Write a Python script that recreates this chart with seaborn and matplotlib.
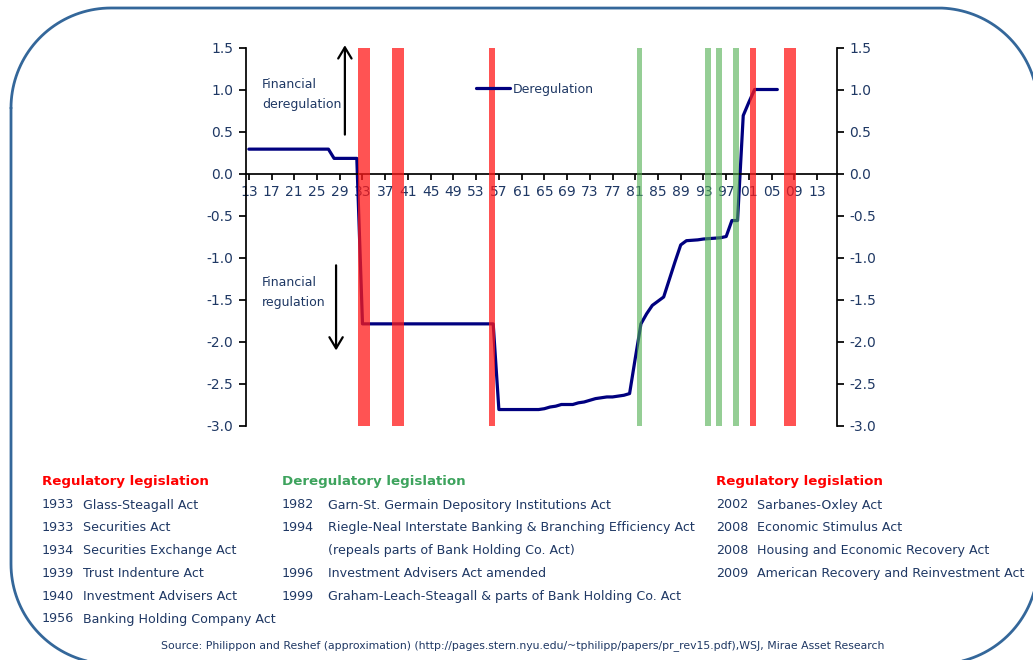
import matplotlib
matplotlib.use('Agg')
import matplotlib.pyplot as plt
import seaborn as sns
import pandas as pd
import numpy as np

# 데이터: 연도별 금융 규제완화 지수
years = list(range(1913, 2007))
dereg_index = ([0.29] * 15 + [0.18] * 5 + [-1.79] * 24 + [-2.81] * 8 +
               [-2.80, -2.78, -2.77, -2.75, -2.75, -2.75, -2.73, -2.72, -2.70, -2.68,
                -2.67, -2.66, -2.66, -2.65, -2.64, -2.62, -2.20, -1.79, -1.67, -1.57,
                -1.52, -1.47, -1.26, -1.05, -0.85, -0.80, -0.795, -0.79, -0.78, -0.775,
                -0.77, -0.765, -0.75, -0.56, -0.56, 0.69, 0.85, 1.00, 1.00, 1.00,
                1.00, 1.00])

# 규제 / 규제완화 입법 연도
reg_years = [1933, 1933, 1934, 1939, 1940, 1956, 2002, 2008, 2008, 2009]
dereg_years = [1982, 1994, 1996, 1999]

x_ticks = list(range(1913, 2014, 4))
x_labels = ['13', '17', '21', '25', '29', '33', '37', '41', '45', '49', '53', '57', '61',
            '65', '69', '73', '77', '81', '85', '89', '93', '97', '01', '05', '09', '13']
y_ticks = [1.5, 1.0, 0.5, 0.0, -0.5, -1.0, -1.5, -2.0, -2.5, -3.0]
y_labels = ['1.5', '1.0', '0.5', '0.0', '-0.5', '-1.0', '-1.5', '-2.0', '-2.5', '-3.0']

# 하단 입법 목록
reg_acts_early = [('1933', 'Glass-Steagall Act'), ('1933', 'Securities Act'),
                  ('1934', 'Securities Exchange Act'), ('1939', 'Trust Indenture Act'),
                  ('1940', 'Investment Advisers Act'), ('1956', 'Banking Holding Company Act')]
dereg_acts = [('1982', 'Garn-St. Germain Depository Institutions Act'),
              ('1994', 'Riegle-Neal Interstate Banking & Branching Efficiency Act'),
              ('', '(repeals parts of Bank Holding Co. Act)'),
              ('1996', 'Investment Advisers Act amended'),
              ('1999', 'Graham-Leach-Steagall & parts of Bank Holding Co. Act')]
reg_acts_late = [('2002', 'Sarbanes-Oxley Act'), ('2008', 'Economic Stimulus Act'),
                 ('2008', 'Housing and Economic Recovery Act'),
                 ('2009', 'American Recovery and Reinvestment Act')]

source = ('Source: Philippon and Reshef (approximation) '
          '(http://pages.stern.nyu.edu/~tphilipp/papers/pr_rev15.pdf),WSJ, Mirae Asset Research')

sns.set_theme(style='white')
plt.rcParams['font.family'] = ['DejaVu Sans']

navy = '#1F3864'
W, H = 1033, 660

def px(x, y):
    return x / W, 1 - y / H

fig = plt.figure(figsize=(W / 100, H / 100), dpi=100)

# 둥근 테두리 (픽셀 좌표 배경 축, y 아래 방향)
bg = fig.add_axes([0, 0, 1, 1], zorder=-1)
bg.set_xlim(0, W)
bg.set_ylim(H, 0)
bg.axis('off')

def rounded_rect(x0, y0, x1, y1, r):
    t = np.linspace(0, np.pi / 2, 40)
    centers = [(x0 + r, y0 + r), (x1 - r, y0 + r), (x1 - r, y1 - r), (x0 + r, y1 - r)]
    starts = [np.pi, 1.5 * np.pi, 0, 0.5 * np.pi]
    pts = [np.c_[cx + r * np.cos(a0 + t), cy + r * np.sin(a0 + t)]
           for (cx, cy), a0 in zip(centers, starts)]
    return np.vstack(pts + [pts[0][:1]])

frame = rounded_rect(11, 8, 1038, 664, 100)
bg.plot(frame[:, 0], frame[:, 1], color='#34679A', lw=2.0, clip_on=False)

ax = fig.add_axes([246 / W, 1 - 425.5 / H, (837 - 246) / W, 378 / H])
ax.patch.set_alpha(0)

df = pd.DataFrame({'year': years, 'Deregulation': dereg_index})
sns.lineplot(data=df, x='year', y='Deregulation', ax=ax, color='#00007F', lw=2.3,
             label='Deregulation', zorder=2)

# 입법 연도 띠 (반투명, 선 위에)
reg_band = sorted(set(reg_years))
dereg_band = sorted(set(dereg_years))
ax.bar([y - 0.25 for y in reg_band], 4.5, bottom=-3, width=1.0, color='#FF1A1A',
       alpha=0.75, lw=0, zorder=4)
ax.bar([y - 0.25 for y in dereg_band], 4.5, bottom=-3, width=1.0, color='#4FAE4F',
       alpha=0.6, lw=0, zorder=4)

ax.set_xlim(1912.5, 2016.5)
ax.set_ylim(-3, 1.5)
ax.set_xlabel('')
ax.set_ylabel('')
ax.set_xticks(x_ticks)
ax.set_xticklabels(x_labels)
ax.set_yticks(y_ticks)
ax.set_yticklabels(y_labels)
for s in ['top', 'right']:
    ax.spines[s].set_visible(False)
ax.spines['bottom'].set_position(('data', 0))
ax.spines['bottom'].set_color('black')
ax.spines['left'].set_color('black')
ax.tick_params(axis='x', bottom=True, direction='out', length=4, color='black',
               labelcolor=navy, labelsize=10, pad=4)
ax.tick_params(axis='y', left=True, direction='out', length=5, color='black',
               labelcolor=navy, labelsize=10, pad=4)

ax2 = ax.twinx()
ax2.set_ylim(-3, 1.5)
ax2.set_yticks(y_ticks)
ax2.set_yticklabels(y_labels)
for s in ['top', 'left', 'bottom']:
    ax2.spines[s].set_visible(False)
ax2.spines['right'].set_color('black')
ax2.tick_params(axis='y', right=True, direction='out', length=5, color='black',
                labelcolor=navy, labelsize=10, pad=4)
ax2.grid(False)

ax.legend(loc='center left', bbox_to_anchor=(0.389, 0.89), frameon=False, fontsize=9,
          handlelength=2.7, handletextpad=0.25, borderpad=0, borderaxespad=0,
          labelcolor=navy)

# 화살표와 설명
ax.text(1915.3, 1.14, 'Financial\nderegulation', va='top', ha='left', fontsize=9,
        color=navy, linespacing=1.75)
ax.annotate('', xy=(1929.9, 1.56), xytext=(1929.9, 0.43),
            arrowprops=dict(arrowstyle='->,head_length=0.5,head_width=0.3', color='black',
                            lw=1.6, mutation_scale=16), annotation_clip=False)
ax.text(1915.3, -1.22, 'Financial\nregulation', va='top', ha='left', fontsize=9,
        color=navy, linespacing=1.75)
ax.annotate('', xy=(1928.35, -2.14), xytext=(1928.35, -1.06),
            arrowprops=dict(arrowstyle='->,head_length=0.5,head_width=0.3', color='black',
                            lw=1.6, mutation_scale=16), annotation_clip=False)

# 하단 입법 목록
row_y = [505, 527.5, 550.5, 573.5, 596.5, 619]

def table(x_year, x_text, title, color, rows):
    fig.text(*px(x_year, 482), title, color=color, fontsize=9.6, fontweight='bold',
             va='center', ha='left')
    for (yr, name), yy in zip(rows, row_y):
        if yr:
            fig.text(*px(x_year, yy), yr, color=navy, fontsize=9.2, va='center', ha='left')
        fig.text(*px(x_text, yy), name, color=navy, fontsize=9.1, va='center', ha='left')

table(42, 83, 'Regulatory legislation', '#FF0000', reg_acts_early)
table(282, 328, 'Deregulatory legislation', '#3DA35D', dereg_acts)
table(716, 757, 'Regulatory legislation', '#FF0000', reg_acts_late)

fig.text(*px(523, 646), source, color=navy, fontsize=7.8, ha='center', va='center')

fig.savefig('out.png', dpi=100)
